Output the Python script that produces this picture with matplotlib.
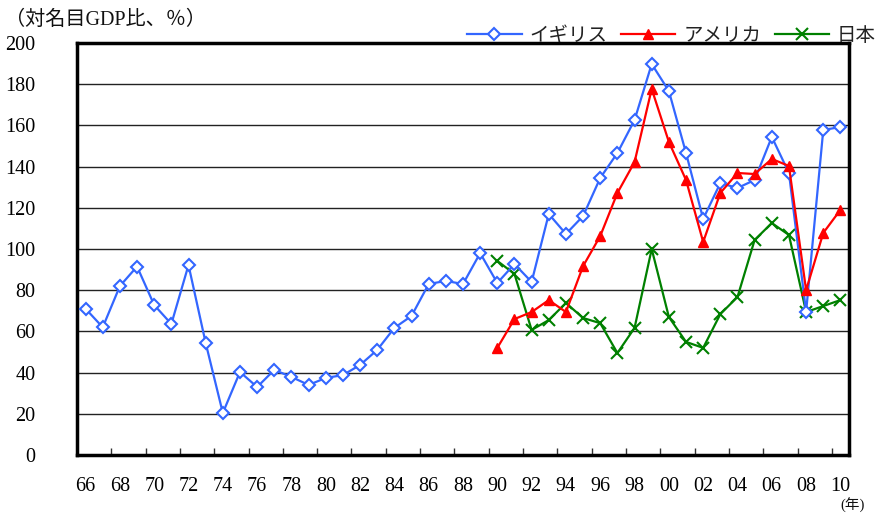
import matplotlib
matplotlib.use("Agg")
import matplotlib.pyplot as plt
import numpy as np

plt.rcParams['font.family'] = ['Liberation Serif', 'Noto Sans CJK JP', 'DejaVu Sans']

years_uk = list(range(1966, 2011))
uk = [71, 62, 82, 91.5, 72.8, 63.6, 92.2, 54.4, 20.4, 40.3,
      33, 41.3, 37.9, 34, 37.4, 38.8, 43.7, 51, 61.7, 67.5,
      83, 84.5, 83, 98, 83.5, 92.7, 84, 117, 107.3, 116,
      134.5, 146.6, 162.6, 189.8, 176.7, 146.6, 114.6, 132, 129.6, 133.5,
      154.4, 136.9, 69.5, 157.8, 159.2]
years_us_jp = list(range(1990, 2011))
us = [52, 66, 69.4, 75.2, 69.4, 91.7, 106.3, 127.2, 142.2, 177.7,
      152, 133.5, 103.4, 127.2, 136.9, 136.4, 143.7, 140.3, 80, 107.8, 119]
jp = [94.2, 87.9, 60.7, 65.5, 73.8, 66.5, 64, 49.5, 61.7, 100,
      67, 54.9, 52, 68.4, 76.7, 104.4, 112.6, 106.8, 69.4, 72.3, 75.2]
labels = ['イギリス', 'アメリカ', '日本']
xtick_labels = [f"{y % 100:02d}" for y in range(1966, 2011, 2)]

W, H = 875, 514
fig = plt.figure(figsize=(W / 100, H / 100), dpi=100)
L, R, T, B = 77, 849, 43, 455
ax = fig.add_axes([L / W, (H - B) / H, (R - L) / W, (B - T) / H])

ax.plot(years_uk, uk, color='#3366FF', lw=1.6, marker='D', ms=6.5,
        mfc='white', mec='#3366FF', mew=1.5, label=labels[0], zorder=3)
ax.plot(years_us_jp, us, color='#FF0000', lw=1.6, marker='^', ms=7,
        mfc='#FF0000', mec='#FF0000', label=labels[1], zorder=4)
ax.plot(years_us_jp, jp, color='#008000', lw=1.6, marker='x', ms=9,
        mew=1.5, label=labels[2], zorder=2)

ax.set_xlim(1965.5, 2010.5)
ax.set_ylim(0, 200)
ax.set_yticks(np.arange(0, 201, 20))
ax.yaxis.grid(True, color='#222222', lw=1)
ax.set_axisbelow(True)
ax.tick_params(axis='y', length=0, pad=30, labelsize=14.5)

ax.set_xticks(list(range(1966, 2011, 2)))
ax.set_xticklabels(xtick_labels)
ax.tick_params(axis='x', which='major', length=0, pad=16, labelsize=14.5)
ax.set_xticks(np.arange(1967.5, 2010, 2), minor=True)
ax.tick_params(axis='x', which='minor', direction='in', length=5, width=1, color='#333333')

for s in ax.spines.values():
    s.set_linewidth(2.5)
    s.set_color('black')

leg = ax.legend(loc='lower right', bbox_to_anchor=(1.035, 0.995), ncol=3, frameon=False,
                fontsize=14, handlelength=2.8, handletextpad=0.4, columnspacing=0.7,
                borderaxespad=0, borderpad=0)
for t in leg.get_texts():
    t.set_color('#222222')

fig.text(5 / W, 1 - 20 / H, '（対名目GDP比、％）', fontsize=14.5, ha='left', va='center',
         color='#111111')
fig.text(840 / W, 1 / H, '(年)', fontsize=10.5, ha='left', va='bottom', color='#111111')

fig.savefig('out.png', dpi=100)
